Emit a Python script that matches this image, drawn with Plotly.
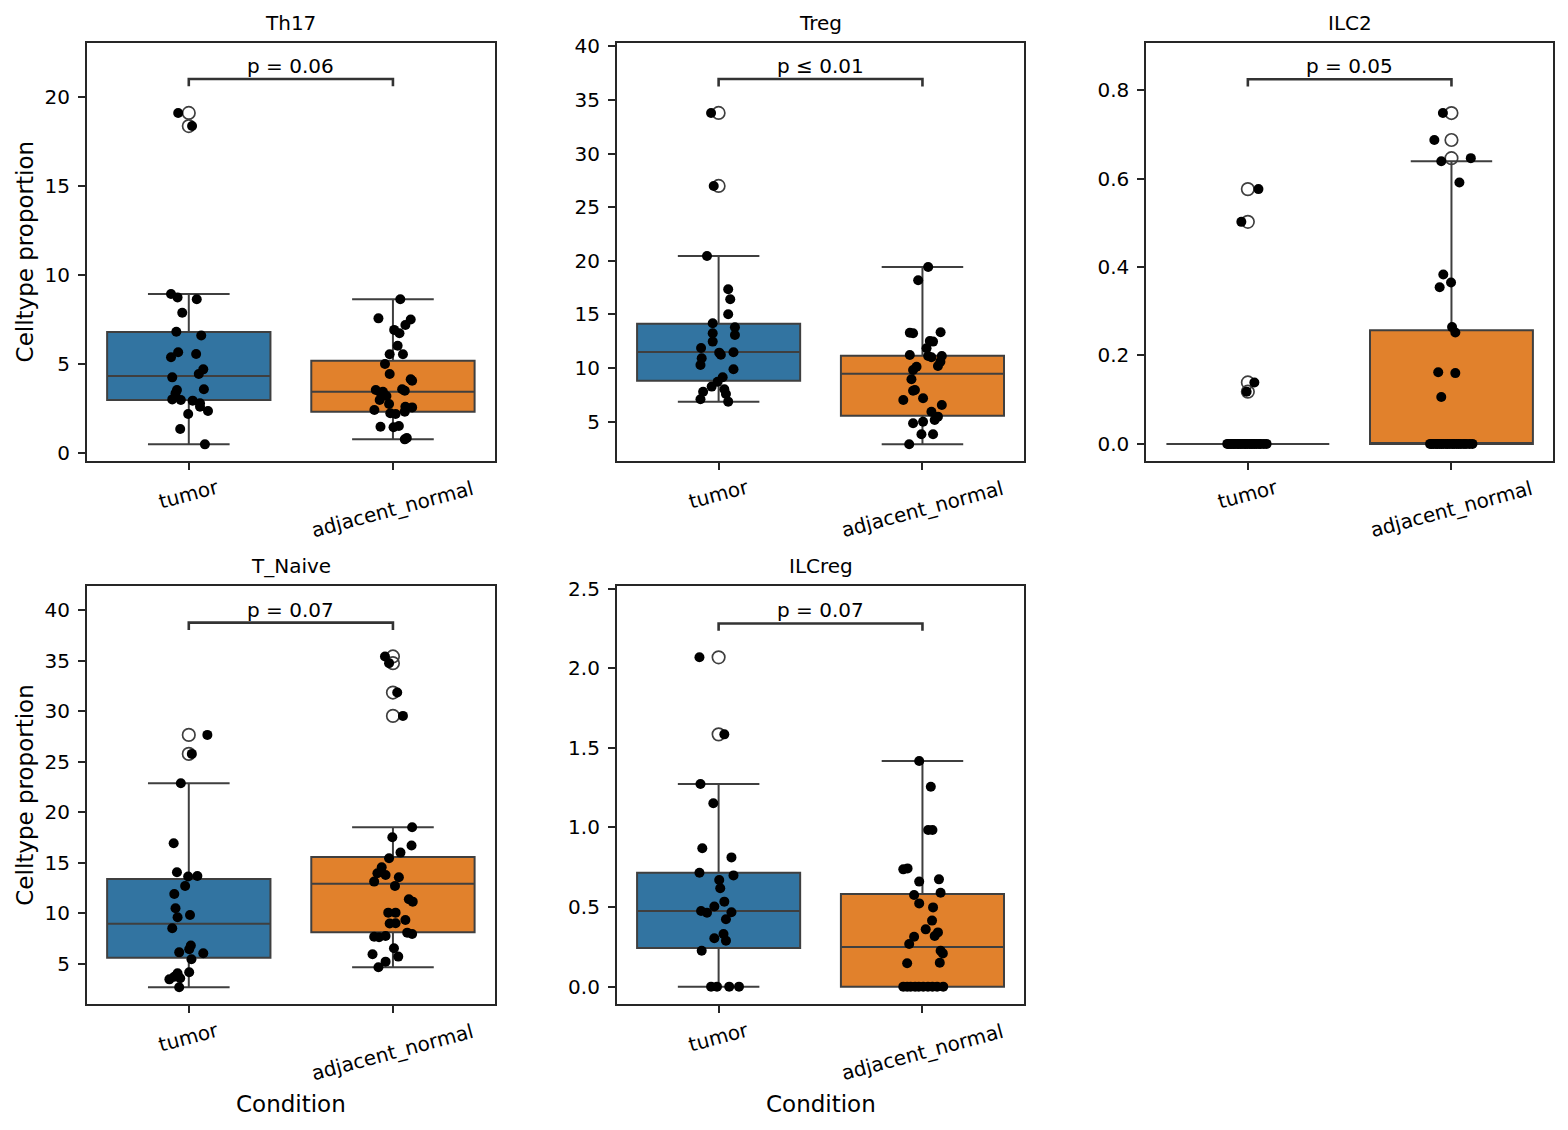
'''
celltype proportions per condition, box + strip per cell type
'''

import plotly.graph_objects as go
from plotly.subplots import make_subplots

conditions = ["tumor", "adjacent_normal"]
celltypes = ["Th17", "Treg", "ILC2", "T_Naive", "ILCreg"]
p_labels = ["p = 0.06", "p \u2264 0.01", "p = 0.05", "p = 0.07", "p = 0.07"]

# strip points: value and horizontal jitter (category units)
th17_tumor = [19.12, 18.38, 8.93, 8.74, 8.63, 7.88, 6.81, 6.60, 5.65, 5.55, 5.37,
              4.69, 4.43, 4.24, 3.57, 3.53, 3.34, 3.00, 2.97, 2.93, 2.78, 2.59,
              2.35, 2.18, 1.33, 0.47]
th17_tumor_dx = [-0.052, 0.016, -0.087, -0.055, 0.039, -0.032, -0.061, 0.061, -0.052,
                 0.036, -0.087, 0.071, 0.049, -0.081, 0.074, -0.058, -0.065, -0.081,
                 -0.039, 0.019, 0.055, 0.055, 0.094, -0.003, -0.042, 0.079]
th17_normal = [8.63, 7.56, 7.50, 7.19, 6.91, 6.72, 6.02, 5.54, 5.54, 4.99, 4.43, 4.13,
               4.05, 3.57, 3.53, 3.49, 3.43, 3.38, 3.19, 2.97, 2.74, 2.59, 2.55, 2.40,
               2.31, 2.22, 2.18, 1.50, 1.46, 1.43, 0.83, 0.75]
th17_normal_dx = [0.036, -0.071, 0.087, 0.061, 0.006, 0.032, 0.023, -0.016, 0.049,
                  -0.039, -0.016, 0.087, 0.094, 0.045, -0.084, 0.058, -0.049, -0.061,
                  -0.032, -0.065, -0.019, 0.061, 0.094, -0.091, 0.058, -0.013, 0.013,
                  0.029, -0.061, 0.003, 0.068, 0.058]

treg_tumor = [33.80, 26.99, 20.46, 17.35, 16.42, 15.02, 14.18, 13.81, 13.25, 13.09,
              12.47, 11.88, 11.47, 11.44, 11.25, 10.91, 10.29, 9.89, 9.14, 8.73, 8.27,
              8.02, 7.80, 7.58, 7.09, 6.87]
treg_tumor_dx = [-0.037, -0.024, -0.057, 0.047, 0.057, 0.047, -0.029, 0.080, -0.029,
                 0.080, -0.029, -0.086, 0.073, 0.003, 0.011, -0.083, -0.089, 0.073,
                 0.020, -0.005, -0.034, 0.028, -0.076, 0.036, -0.089, 0.047]
treg_normal = [19.43, 18.19, 13.34, 13.30, 13.25, 12.53, 12.47, 11.85, 11.22, 11.13,
               11.13, 11.01, 10.60, 10.20, 10.13, 9.82, 8.96, 7.96, 7.89, 7.18, 7.02,
               6.56, 5.93, 5.47, 5.16, 5.00, 4.85, 3.82, 3.82, 2.89]
treg_normal_dx = [0.028, -0.021, 0.089, -0.062, -0.046, 0.036, 0.052, 0.020, -0.062,
                  0.028, 0.095, 0.044, 0.088, 0.076, -0.029, -0.046, -0.054, -0.037,
                  -0.046, 0.003, -0.094, 0.095, 0.044, 0.076, 0.060, 0.003, -0.046,
                  -0.005, 0.052, -0.065]

ilc2_tumor = [0.576, 0.502, 0.139, 0.118, 0.0, 0.0, 0.0, 0.0, 0.0, 0.0, 0.0, 0.0,
              0.0, 0.0, 0.0, 0.0, 0.0, 0.0, 0.0, 0.0, 0.0, 0.0, 0.0, 0.0, 0.0, 0.0]
ilc2_tumor_dx = [0.052, -0.032, 0.032, -0.006, -0.101, -0.094, -0.086, -0.079, -0.070,
                 -0.063, -0.052, -0.046, -0.037, -0.029, -0.018, -0.011, -0.003, 0.008,
                 0.016, 0.025, 0.034, 0.043, 0.055, 0.063, 0.078, 0.092]
ilc2_normal = [0.748, 0.687, 0.646, 0.639, 0.591, 0.383, 0.365, 0.354, 0.264, 0.252,
               0.162, 0.160, 0.106, 0.0, 0.0, 0.0, 0.0, 0.0, 0.0, 0.0, 0.0, 0.0,
               0.0, 0.0, 0.0, 0.0, 0.0, 0.0, 0.0, 0.0, 0.0, 0.0, 0.0]
ilc2_normal_dx = [-0.042, -0.084, 0.095, -0.050, 0.039, -0.040, -0.002, -0.058, 0.003,
                  0.019, -0.065, 0.019, -0.050, -0.105, -0.097, -0.088, -0.076, -0.069,
                  -0.058, -0.049, -0.040, -0.027, -0.019, -0.008, 0.004, 0.013, 0.025,
                  0.036, 0.047, 0.061, 0.072, 0.088, 0.103]

tnaive_tumor = [27.67, 25.79, 22.89, 16.95, 14.08, 13.71, 13.65, 12.72, 11.93, 10.51,
                9.85, 9.62, 8.53, 6.82, 6.45, 6.15, 6.06, 5.46, 4.18, 4.08, 3.74,
                3.58, 3.48, 2.69]
tnaive_tumor_dx = [0.091, 0.015, -0.039, -0.074, -0.058, 0.042, -0.003, -0.018, -0.071,
                   -0.065, 0.006, -0.055, -0.081, 0.010, 0.002, -0.047, 0.071, 0.013,
                   0.002, -0.055, -0.071, -0.042, -0.095, -0.047]
tnaive_normal = [35.43, 34.77, 31.86, 29.55, 18.53, 17.54, 16.72, 16.02, 15.46, 14.57,
                 13.98, 13.81, 13.58, 13.15, 12.72, 11.40, 11.17, 10.08, 10.08, 9.36,
                 9.03, 9.00, 8.10, 7.97, 7.77, 7.70, 7.64, 6.55, 5.96, 5.73, 5.23, 4.67]
tnaive_normal_dx = [-0.039, -0.019, 0.021, 0.049, 0.094, -0.003, 0.091, 0.037, -0.019,
                    -0.055, -0.076, -0.036, 0.029, -0.092, 0.010, 0.078, 0.097, -0.023,
                    0.013, 0.061, 0.013, -0.016, 0.070, 0.094, -0.036, -0.092, -0.068,
                    0.005, -0.100, 0.026, -0.036, -0.071]

ilcreg_tumor = [2.069, 1.585, 1.273, 1.152, 0.869, 0.812, 0.716, 0.699, 0.670, 0.618,
                0.534, 0.503, 0.475, 0.465, 0.467, 0.423, 0.331, 0.304, 0.289, 0.226,
                0.0, 0.0, 0.0, 0.0]
ilcreg_tumor_dx = [-0.094, 0.028, -0.089, -0.026, -0.080, 0.063, -0.094, 0.073, 0.003,
                   0.008, 0.028, -0.021, -0.086, -0.057, 0.063, 0.036, 0.024, -0.021,
                   0.036, -0.083, -0.037, -0.008, 0.052, 0.100]
ilcreg_normal = [1.418, 1.256, 0.984, 0.984, 0.743, 0.737, 0.674, 0.660, 0.590, 0.576,
                 0.523, 0.498, 0.415, 0.360, 0.341, 0.318, 0.314, 0.268, 0.226, 0.209,
                 0.150, 0.147, 0.0, 0.0, 0.0, 0.0, 0.0, 0.0, 0.0, 0.0, 0.0, 0.0]
ilcreg_normal_dx = [-0.016, 0.041, 0.028, 0.049, -0.073, -0.094, 0.081, -0.016, 0.089,
                    -0.041, -0.016, 0.052, 0.047, 0.016, 0.076, 0.060, -0.041, -0.065,
                    0.089, 0.100, 0.085, -0.075, -0.094, -0.075, -0.058, -0.036, -0.018,
                    0.004, 0.027, 0.049, 0.072, 0.102]

# box quartiles [q1, median, q3]
th17_tumor_q = [2.97, 4.32, 6.79]
th17_normal_q = [2.31, 3.43, 5.18]
treg_tumor_q = [8.82, 11.50, 14.14]
treg_normal_q = [5.56, 9.48, 11.16]
ilc2_tumor_q = [0.0, 0.0, 0.0]
ilc2_normal_q = [0.0, 0.0, 0.257]
tnaive_tumor_q = [5.62, 8.99, 13.42]
tnaive_normal_q = [8.14, 12.95, 15.59]
ilcreg_tumor_q = [0.243, 0.476, 0.716]
ilcreg_normal_q = [0.0, 0.249, 0.582]

values = [(th17_tumor, th17_normal), (treg_tumor, treg_normal),
          (ilc2_tumor, ilc2_normal), (tnaive_tumor, tnaive_normal),
          (ilcreg_tumor, ilcreg_normal)]
jitters = [(th17_tumor_dx, th17_normal_dx), (treg_tumor_dx, treg_normal_dx),
           (ilc2_tumor_dx, ilc2_normal_dx), (tnaive_tumor_dx, tnaive_normal_dx),
           (ilcreg_tumor_dx, ilcreg_normal_dx)]
quartiles = [(th17_tumor_q, th17_normal_q), (treg_tumor_q, treg_normal_q),
             (ilc2_tumor_q, ilc2_normal_q), (tnaive_tumor_q, tnaive_normal_q),
             (ilcreg_tumor_q, ilcreg_normal_q)]

# axis settings per panel
y_ranges = [[-0.45, 23.07], [1.36, 40.35], [-0.038, 0.907], [1.04, 42.4], [-0.109, 2.517]]
y_dticks = [5, 5, 0.2, 5, 0.5]
y_formats = ["d", "d", ".1f", "d", ".1f"]
positions = [(1, 1), (1, 2), (1, 3), (2, 1), (2, 2)]

box_colors = ["#3274a1", "#e1812c"]
edge = "#3f3f3f"
ink = "#262626"
font = "DejaVu Sans"

x_domains = [[0.0553, 0.3157], [0.3933, 0.6533], [0.7309, 0.9906]]
y_domains = [[0.5923, 0.9622], [0.1115, 0.4814]]


def whiskers(vals, q):
    """seaborn style whiskers: furthest points within 1.5 IQR"""
    iqr = q[2] - q[0]
    lo = min(v for v in vals if v >= q[0] - 1.5 * iqr)
    hi = max(v for v in vals if v <= q[2] + 1.5 * iqr)
    return lo, hi


fig = make_subplots(rows=2, cols=3, specs=[[{}, {}, {}], [{}, {}, None]])
annotations = []

for i, name in enumerate(celltypes):
    row, col = positions[i]
    n = "" if i == 0 else str(i + 1)
    for j, cond in enumerate(conditions):
        vals = values[i][j]
        q = quartiles[i][j]
        lo, hi = whiskers(vals, q)
        fig.add_trace(go.Box(x=[j], q1=[q[0]], median=[q[1]], q3=[q[2]],
                             lowerfence=[lo], upperfence=[hi], width=0.8,
                             whiskerwidth=0.5, fillcolor=box_colors[j],
                             line=dict(color=edge, width=2), boxpoints=False,
                             showlegend=False, name=cond), row=row, col=col)
        fliers = [v for v in vals if v < lo or v > hi]
        if fliers:
            fig.add_trace(go.Scatter(x=[j] * len(fliers), y=fliers, mode="markers",
                                     marker=dict(symbol="circle-open", size=12.5, color=edge,
                                                 line=dict(width=1.7)),
                                     showlegend=False), row=row, col=col)
        fig.add_trace(go.Scatter(x=[j + d for d in jitters[i][j]], y=vals, mode="markers",
                                 marker=dict(color="black", size=10),
                                 showlegend=False, name=cond), row=row, col=col)

    # significance bracket above the highest point
    span = y_ranges[i][1] - y_ranges[i][0]
    top = max(max(values[i][0]), max(values[i][1]))
    bar = top + 0.081 * span
    tick = bar - 0.0175 * span
    fig.add_trace(go.Scatter(x=[0, 0, 1, 1], y=[tick, bar, bar, tick], mode="lines",
                             line=dict(color="#333333", width=2.6), showlegend=False),
                  row=row, col=col)
    annotations.append(dict(x=0.5, y=bar, xref="x" + n, yref="y" + n, text=p_labels[i],
                            showarrow=False, yanchor="bottom", yshift=-1,
                            font=dict(size=20, color="black", family=font)))

    # panel title
    annotations.append(dict(x=0.5, y=1, xref="x" + n + " domain", yref="y" + n + " domain",
                            text=name, showarrow=False, yanchor="bottom", yshift=6,
                            font=dict(size=20, color="black", family=font)))

    # rotated category labels
    for j, cond in enumerate(conditions):
        annotations.append(dict(x=j, y=0, xref="x" + n, yref="y" + n + " domain",
                                text=cond, showarrow=False, textangle=-15,
                                xanchor="center", yanchor="middle",
                                yshift=-33 if j == 0 else -48,
                                font=dict(size=20, color="black", family=font)))

    if col == 1:
        annotations.append(dict(x=0, y=0.5, xref="x" + n + " domain",
                                yref="y" + n + " domain", text="Celltype proportion",
                                showarrow=False, textangle=-90, xanchor="center",
                                yanchor="middle", xshift=-62,
                                font=dict(size=23, color="black", family=font)))
    if row == 2:
        annotations.append(dict(x=0.5, y=0, xref="x" + n + " domain",
                                yref="y" + n + " domain", text="Condition",
                                showarrow=False, xanchor="center", yanchor="middle",
                                yshift=-100,
                                font=dict(size=23, color="black", family=font)))

    fig.update_xaxes(domain=x_domains[col - 1], range=[-0.5, 1.5], tickvals=[0, 1],
                     showticklabels=False, ticks="outside", ticklen=7, tickwidth=1.6,
                     tickcolor=ink, showline=True, mirror=True, linecolor=ink,
                     linewidth=1.6, showgrid=False, zeroline=False, automargin=False,
                     row=row, col=col)
    fig.update_yaxes(domain=y_domains[row - 1], range=y_ranges[i], dtick=y_dticks[i],
                     tick0=0, tickformat=y_formats[i], ticks="outside", ticklen=7,
                     tickwidth=1.6, tickcolor=ink, showline=True, mirror=True,
                     linecolor=ink, linewidth=1.6, showgrid=False, zeroline=False,
                     ticklabelstandoff=4, automargin=False,
                     tickfont=dict(size=20, color="black", family=font),
                     row=row, col=col)

fig.update_layout(width=1568, height=1130, margin=dict(l=0, r=0, t=0, b=0),
                  plot_bgcolor="white", paper_bgcolor="white",
                  showlegend=False, annotations=annotations,
                  font=dict(family=font, color="black"))

fig.write_html("out.html", config={"displayModeBar": False},
               post_script="document.body.style.margin = '0';")
